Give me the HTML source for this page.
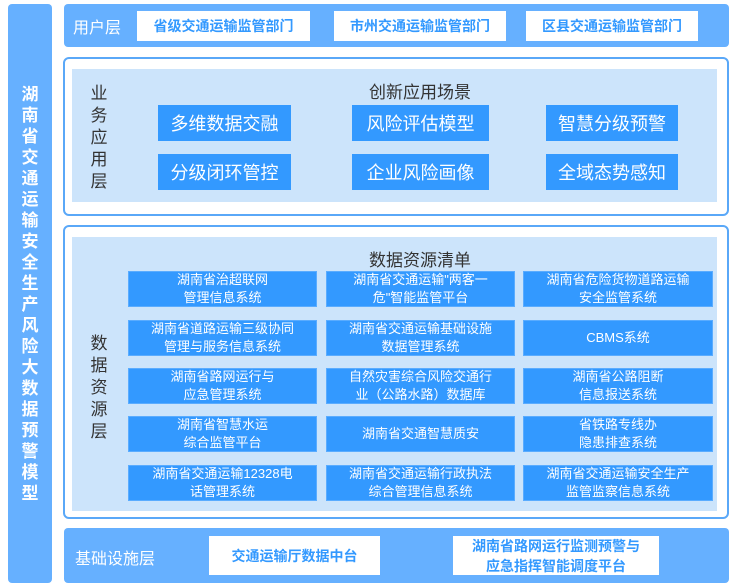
<!DOCTYPE html>
<html><head><meta charset="utf-8"><style>
*{margin:0;padding:0;box-sizing:border-box}
body{width:732px;height:587px;background:#fff;position:relative;overflow:hidden;font-family:"Liberation Sans","Noto Sans CJK SC",sans-serif}
.a{position:absolute}
.bar{background:#66b0ff;border-radius:4px}
.wb{background:#fff;color:#3399ff;font-weight:bold;font-size:14px;display:flex;align-items:center;justify-content:center;text-align:center;line-height:20px}
.btn{background:#3399ff;color:#fff;font-size:18px;display:flex;align-items:center;justify-content:center}
.db{background:#3399ff;color:#fff;font-size:13px;line-height:18px;display:flex;align-items:center;justify-content:center;text-align:center;border:1px solid #5aacff}
.outer{border:2px solid #5aa8f8;border-radius:6px;background:#fff}
.inner{background:#cce4fb}
.vl{color:#333;font-size:17px;line-height:22px;width:20px;text-align:center}
</style></head><body>
<div class="a bar" style="left:8px;top:4px;width:44px;height:579px"></div>
<div class="a" style="left:20px;top:84px;width:20px;color:#fff;font-weight:bold;font-size:17px;line-height:21px;text-align:center">湖南省交通运输安全生产风险大数据预警模型</div>

<div class="a bar" style="left:64px;top:4px;width:665px;height:43px"></div>
<div class="a" style="left:73px;top:14px;color:#fff;font-size:16px">用户层</div>
<div class="a wb" style="left:137px;top:11px;width:173px;height:30px">省级交通运输监管部门</div>
<div class="a wb" style="left:334px;top:11px;width:172px;height:30px">市州交通运输监管部门</div>
<div class="a wb" style="left:526px;top:11px;width:172px;height:30px">区县交通运输监管部门</div>

<div class="a outer" style="left:63px;top:57px;width:666px;height:159px"></div>
<div class="a inner" style="left:72px;top:69px;width:645px;height:133px"></div>
<div class="a" style="left:340px;top:78px;width:160px;text-align:center;font-size:17px;color:#333;white-space:nowrap">创新应用场景</div>
<div class="a vl" style="left:89px;top:83px">业务应用层</div>
<div class="a btn" style="left:158px;top:105px;width:133px;height:36px">多维数据交融</div>
<div class="a btn" style="left:352px;top:105px;width:137px;height:36px">风险评估模型</div>
<div class="a btn" style="left:546px;top:105px;width:132px;height:36px">智慧分级预警</div>
<div class="a btn" style="left:158px;top:154px;width:133px;height:36px">分级闭环管控</div>
<div class="a btn" style="left:352px;top:154px;width:137px;height:36px">企业风险画像</div>
<div class="a btn" style="left:546px;top:154px;width:132px;height:36px">全域态势感知</div>

<div class="a outer" style="left:63px;top:225px;width:666px;height:294px"></div>
<div class="a inner" style="left:72px;top:237px;width:645px;height:274px"></div>
<div class="a" style="left:340px;top:246px;width:160px;text-align:center;font-size:17px;color:#333;white-space:nowrap">数据资源清单</div>
<div class="a vl" style="left:89px;top:333px">数据资源层</div>

<div class="a db" style="left:128px;top:271px;width:189px;height:36px">湖南省治超联网<br>管理信息系统</div>
<div class="a db" style="left:326px;top:271px;width:189px;height:36px">湖南省交通运输"两客一<br>危"智能监管平台</div>
<div class="a db" style="left:523px;top:271px;width:190px;height:36px">湖南省危险货物道路运输<br>安全监管系统</div>
<div class="a db" style="left:128px;top:320px;width:189px;height:36px">湖南省道路运输三级协同<br>管理与服务信息系统</div>
<div class="a db" style="left:326px;top:320px;width:189px;height:36px">湖南省交通运输基础设施<br>数据管理系统</div>
<div class="a db" style="left:523px;top:320px;width:190px;height:36px">CBMS系统</div>
<div class="a db" style="left:128px;top:368px;width:189px;height:36px">湖南省路网运行与<br>应急管理系统</div>
<div class="a db" style="left:326px;top:368px;width:189px;height:36px">自然灾害综合风险交通行<br>业（公路水路）数据库</div>
<div class="a db" style="left:523px;top:368px;width:190px;height:36px">湖南省公路阻断<br>信息报送系统</div>
<div class="a db" style="left:128px;top:416px;width:189px;height:36px">湖南省智慧水运<br>综合监管平台</div>
<div class="a db" style="left:326px;top:416px;width:189px;height:36px">湖南省交通智慧质安</div>
<div class="a db" style="left:523px;top:416px;width:190px;height:36px">省铁路专线办<br>隐患排查系统</div>
<div class="a db" style="left:128px;top:465px;width:189px;height:36px">湖南省交通运输12328电<br>话管理系统</div>
<div class="a db" style="left:326px;top:465px;width:189px;height:36px">湖南省交通运输行政执法<br>综合管理信息系统</div>
<div class="a db" style="left:523px;top:465px;width:190px;height:36px">湖南省交通运输安全生产<br>监管监察信息系统</div>

<div class="a bar" style="left:64px;top:528px;width:665px;height:55px"></div>
<div class="a" style="left:75px;top:545px;color:#fff;font-size:16px">基础设施层</div>
<div class="a wb" style="left:209px;top:536px;width:171px;height:39px">交通运输厅数据中台</div>
<div class="a wb" style="left:453px;top:536px;width:206px;height:39px">湖南省路网运行监测预警与<br>应急指挥智能调度平台</div>
</body></html>
